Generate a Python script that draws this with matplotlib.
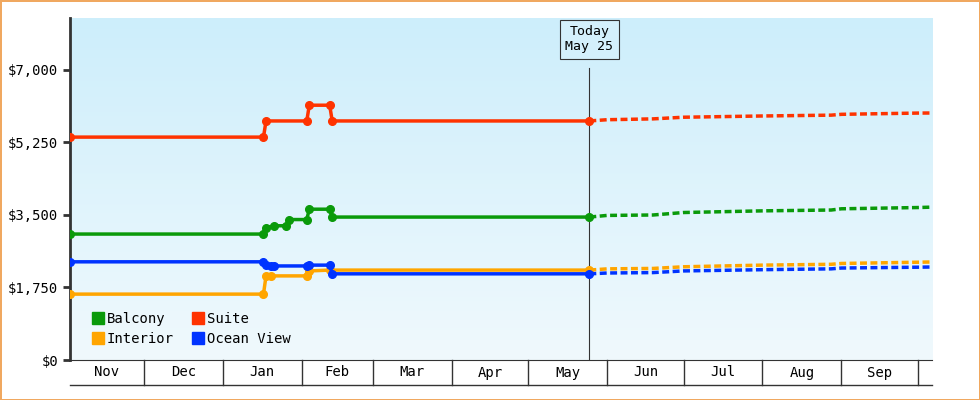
import numpy as np
import matplotlib.pyplot as plt
from matplotlib.colors import LinearSegmentedColormap

# days counted from Nov 1
months = ["Nov", "Dec", "Jan", "Feb", "Mar", "Apr", "May", "Jun", "Jul", "Aug", "Sep"]
month_starts = [1, 30, 61, 92, 120, 151, 181, 212, 242, 273, 304, 334]
today = 205
x_start = 1
x_end = 339.6

# price history (day, value) vertices
balcony_d = [1, 77, 78, 81, 86, 87, 94, 95, 103, 104, 205]
balcony_v = [3040, 3040, 3190, 3240, 3240, 3390, 3390, 3640, 3640, 3450, 3450]
suite_d = [1, 77, 78, 94, 95, 103, 104, 205]
suite_v = [5380, 5380, 5770, 5770, 6150, 6150, 5770, 5770]
ocean_d = [1, 77, 78, 80, 81, 94, 95, 103, 104, 205]
ocean_v = [2370, 2370, 2290, 2270, 2270, 2270, 2290, 2290, 2080, 2080]
interior_d = [1, 77, 78, 80, 94, 95, 103, 205]
interior_v = [1590, 1590, 2030, 2030, 2030, 2150, 2170, 2170]

# projections
proj_d = [205, 212, 230, 242, 273, 300, 304, 334, 339.6]
balcony_p = [3450, 3490, 3500, 3560, 3600, 3620, 3650, 3680, 3690]
suite_p = [5770, 5800, 5820, 5860, 5890, 5910, 5930, 5960, 5962]
ocean_p = [2080, 2100, 2110, 2150, 2180, 2200, 2220, 2240, 2245]
interior_p = [2170, 2200, 2210, 2250, 2290, 2310, 2330, 2360, 2366]

series = [
    ("Balcony", "#0a9a0a", balcony_d, balcony_v, balcony_p),
    ("Interior", "#ffa500", interior_d, interior_v, interior_p),
    ("Suite", "#ff3300", suite_d, suite_v, suite_p),
    ("Ocean View", "#0033ff", ocean_d, ocean_v, ocean_p),
]

plt.rcParams['font.family'] = ['DejaVu Sans Mono']
fig = plt.figure(figsize=(9.8, 4), dpi=100)
fig.patch.set_edgecolor("#f0a860")
fig.patch.set_linewidth(2)
ax = fig.add_axes([70 / 980, 40 / 400, 862 / 980, 342 / 400])
ax.set_xlim(x_start, x_end)
ax.set_ylim(0, 8255)

# gradient background
grad = np.linspace(0, 1, 256).reshape(-1, 1)
cm = LinearSegmentedColormap.from_list("bg", ["#f0f9fd", "#cdeefb"])
ax.imshow(grad, cmap=cm, aspect="auto", extent=[x_start, x_end, 0, 8255], origin="lower", zorder=0)

for name, col, d, v, p in series:
    ax.plot(d, v, color=col, lw=2.5, marker="o", ms=5.5, zorder=3)
    ax.plot(proj_d, p, color=col, lw=2.5, ls=(0, (2, 1)), zorder=3)
    ax.plot([], [], color=col, marker="s", ls="none", ms=9, label=name)

ax.axvline(today, ymax=(8255 - 1200) / 8255, color="#333", lw=0.8, zorder=2)
ax.text(today, 7740, "Today\nMay 25", ha="center", va="center", fontsize=9.5,
        bbox=dict(boxstyle="square,pad=0.4", fc="#d4f0fc", ec="#333", lw=0.8), zorder=4)

ax.set_yticks([0, 1750, 3500, 5250, 7000])
ax.set_yticklabels(["$0", "$1,750", "$3,500", "$5,250", "$7,000"], fontsize=10)
ax.tick_params(axis="y", length=5, width=2, color="#333")
ax.set_xticks([])
for s in ["top", "right"]:
    ax.spines[s].set_visible(False)
ax.spines["left"].set_linewidth(2)
ax.spines["left"].set_color("#333")
ax.spines["bottom"].set_color("#333")

# month band below axis
trans = ax.get_xaxis_transform()
hb = -25 / 342
ax.plot([x_start, x_end], [hb, hb], transform=trans, color="#333", lw=1, clip_on=False)
for b in month_starts[1:]:
    ax.plot([b, b], [0, hb], transform=trans, color="#333", lw=1, clip_on=False)
for i, m in enumerate(months):
    mid = (month_starts[i] + month_starts[i + 1]) / 2
    ax.text(mid, hb / 2, m, transform=trans, ha="center", va="center", fontsize=10)

ax.legend(loc="lower left", ncol=2, frameon=False, fontsize=10, handletextpad=0.2,
          columnspacing=1.4, labelspacing=0.45, borderaxespad=0.6, handlelength=0.8,
          bbox_to_anchor=(0.01, 0.0))

fig.savefig("out.png", dpi=100, edgecolor=fig.get_edgecolor())
